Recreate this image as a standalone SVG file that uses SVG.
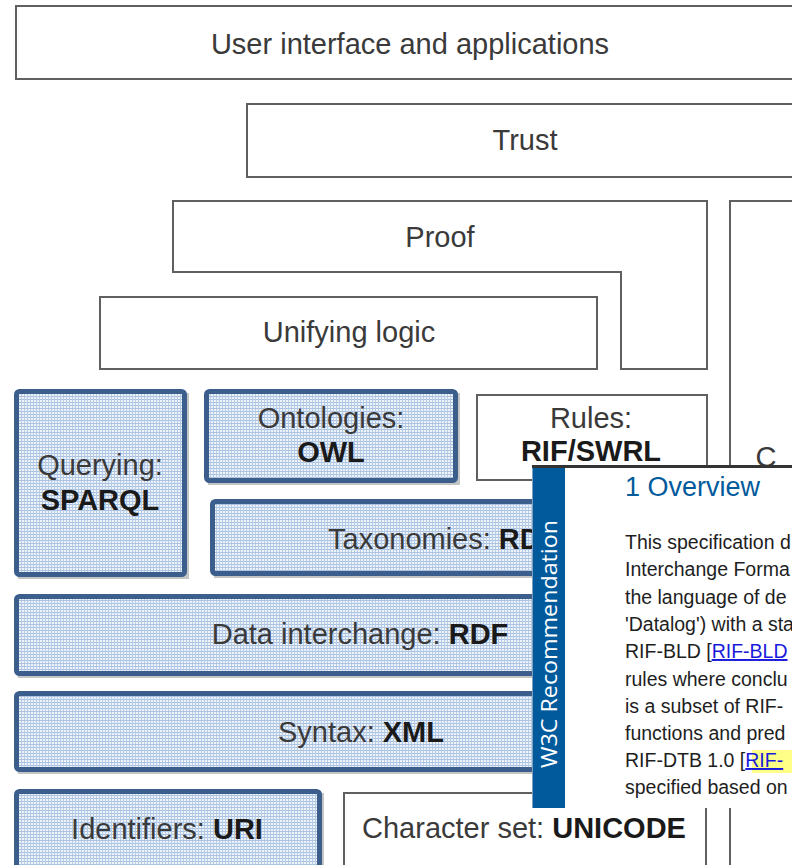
<svg xmlns="http://www.w3.org/2000/svg" width="792" height="865" viewBox="0 0 792 865">
<style>
  .lbl { font-family: "Liberation Sans", Arial, sans-serif; font-size: 29px; fill: #3a3a3a; text-anchor: middle; }
  .b { font-weight: bold; fill: #1a1a1a; }
  .wbox { fill: #ffffff; stroke: #606060; stroke-width: 2; }
  .bbox { fill: url(#grid); stroke: #3b5e8c; stroke-width: 5; }
  .shadow { fill: #c4c4c4; }
  .body { font-family: "Liberation Sans", Arial, sans-serif; font-size: 19.5px; fill: #1e1e1e; }
  .link { fill: #1a1adc; text-decoration: underline; }
</style>
<defs>
  <pattern id="grid" width="3" height="3" patternUnits="userSpaceOnUse">
    <rect width="3" height="3" fill="#eef3fa"/>
    <rect width="3" height="1" fill="#a9c1e1"/>
    <rect width="1" height="3" fill="#b6cbe6"/>
  </pattern>
</defs>
<rect width="792" height="865" fill="#ffffff"/>

<g id="user-interface">
  <rect class="wbox" x="16" y="6" width="800" height="73"/>
  <text class="lbl" x="410" y="54">User interface and applications</text>
</g>
<g id="trust">
  <rect class="wbox" x="247" y="104" width="570" height="73"/>
  <text class="lbl" x="525" y="150">Trust</text>
</g>
<g id="proof">
  <path class="wbox" d="M173,201 H707 V369 H621 V272 H173 Z"/>
  <text class="lbl" x="440" y="247">Proof</text>
</g>
<g id="unifying-logic">
  <rect class="wbox" x="100" y="297" width="497" height="72"/>
  <text class="lbl" x="349" y="342">Unifying logic</text>
</g>
<g id="crypto">
  <rect class="wbox" x="730" y="201" width="100" height="700"/>
  <text class="lbl" x="766" y="467">C</text>
</g>
<g id="rules">
  <rect class="wbox" x="477" y="395" width="230" height="85"/>
  <text class="lbl" x="591" y="428">Rules:</text>
  <text class="lbl b" x="591" y="461">RIF/SWRL</text>
</g>
<g id="querying">
  <rect class="shadow" x="18" y="393" width="171" height="186"/>
  <rect class="bbox" x="16.5" y="391.5" width="168" height="183" rx="3"/>
  <text class="lbl" x="100" y="475">Querying:</text>
  <text class="lbl b" x="100" y="510">SPARQL</text>
</g>
<g id="ontologies">
  <rect class="shadow" x="208" y="393" width="252" height="92"/>
  <rect class="bbox" x="206.5" y="391.5" width="249" height="89" rx="3"/>
  <text class="lbl" x="331" y="428">Ontologies:</text>
  <text class="lbl b" x="331" y="462">OWL</text>
</g>
<g id="taxonomies">
  <rect class="shadow" x="214" y="503" width="494" height="75"/>
  <rect class="bbox" x="212.5" y="501.5" width="492" height="72" rx="3"/>
  <text class="lbl" x="328" y="549" text-anchor="start" style="text-anchor:start">Taxonomies: <tspan class="b">RDFS</tspan></text>
</g>
<g id="data-interchange">
  <rect class="shadow" x="18" y="598" width="690" height="80"/>
  <rect class="bbox" x="16.5" y="596.5" width="688" height="77" rx="3"/>
  <text class="lbl" x="360" y="644">Data interchange: <tspan class="b">RDF</tspan></text>
</g>
<g id="syntax">
  <rect class="shadow" x="18" y="695" width="690" height="79"/>
  <rect class="bbox" x="16.5" y="693.5" width="688" height="76" rx="3"/>
  <text class="lbl" x="361" y="742">Syntax: <tspan class="b">XML</tspan></text>
</g>
<g id="identifiers">
  <rect class="shadow" x="18" y="793" width="306" height="90"/>
  <rect class="bbox" x="16.5" y="791.5" width="303" height="90" rx="3"/>
  <text class="lbl" x="167" y="839">Identifiers: <tspan class="b">URI</tspan></text>
</g>
<g id="character-set">
  <rect class="wbox" x="344" y="793" width="362" height="90"/>
  <text class="lbl" x="524" y="838">Character set: <tspan class="b">UNICODE</tspan></text>
</g>

<g id="connectors"/>

<g id="w3c-popup">
  <rect x="532" y="466" width="270" height="342" fill="#ffffff"/>
  <rect x="532" y="465" width="270" height="3" fill="#333333"/>
  <rect x="532" y="468" width="33" height="340" fill="#005a9c"/>
  <rect x="532" y="468" width="1" height="340" fill="#7f9fbf"/>
  <text transform="translate(557,644) rotate(-90)" x="0" y="0" font-family="'Open Sans', 'Liberation Sans', sans-serif" font-size="21" fill="#ffffff" text-anchor="middle" textLength="248" lengthAdjust="spacingAndGlyphs">W3C Recommendation</text>
  <text x="625" y="496" font-family="'Liberation Sans', Arial, sans-serif" font-size="27" fill="#005a9c">1 Overview</text>
  <rect x="752" y="750" width="45" height="23" fill="#ffff88"/>
  <text class="body" x="625" y="549">This specification d</text>
  <text class="body" x="625" y="576">Interchange Forma</text>
  <text class="body" x="625" y="604">the language of de</text>
  <text class="body" x="625" y="631">'Datalog') with a sta</text>
  <text class="body" x="625" y="658">RIF-BLD [<tspan class="link">RIF-BLD</tspan></text>
  <text class="body" x="625" y="686">rules where conclu</text>
  <text class="body" x="625" y="713">is a subset of RIF-</text>
  <text class="body" x="625" y="740">functions and pred</text>
  <text class="body" x="625" y="767">RIF-DTB 1.0 [<tspan class="link">RIF-</tspan></text>
  <text class="body" x="625" y="794">specified based on</text>
</g>
</svg>
